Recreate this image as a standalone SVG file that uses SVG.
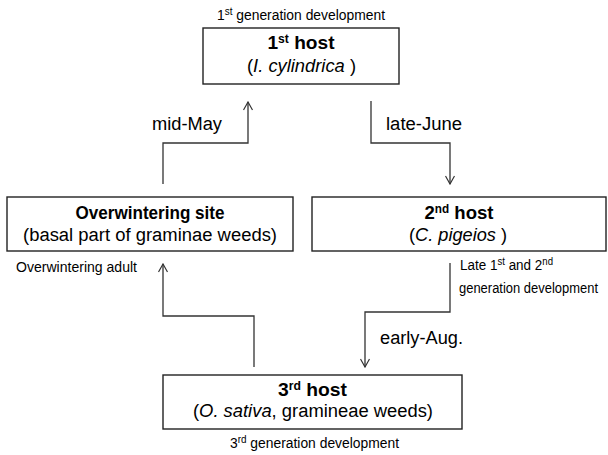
<svg xmlns="http://www.w3.org/2000/svg" width="608" height="455" viewBox="0 0 608 455">
<defs>
<marker id="arr" viewBox="0 0 10 10" refX="9" refY="5" markerWidth="10" markerHeight="10" markerUnits="userSpaceOnUse" orient="auto">
<path d="M1,0.5 L9,5 L1,9.5" fill="none" stroke="#333" stroke-width="1.2"/>
</marker>
<style>
.box{fill:#fff;stroke:#222;stroke-width:1.4}
.ttl{font-family:"Liberation Sans",Arial,sans-serif;font-weight:bold;font-size:19px;fill:#000;text-anchor:middle}
.sub{font-family:"Liberation Sans",Arial,sans-serif;font-size:18px;fill:#000;text-anchor:middle}
.lbl{font-family:"Liberation Sans",Arial,sans-serif;font-size:18px;fill:#000}
.sm{font-family:"Liberation Sans",Arial,sans-serif;font-size:14px;fill:#000}
.it{font-style:italic}
.supb{font-size:12px}
.sups{font-size:10px}
.con{fill:none;stroke:#333;stroke-width:1.3;marker-end:url(#arr)}
</style>
</defs>
<rect width="608" height="455" fill="#fff"/>

<g id="connectors">
<polyline class="con" points="163,184 163,143 248,143 248,102"/>
<polyline class="con" points="371,101 371,143 450,143 450,184"/>
<polyline class="con" points="450,263 450,312 365,312 365,367"/>
<polyline class="con" points="254,367 254,316 163,316 163,264"/>
<text class="lbl" x="152" y="130" textLength="70" lengthAdjust="spacingAndGlyphs">mid-May</text>
<text class="lbl" x="386" y="130" textLength="76" lengthAdjust="spacingAndGlyphs">late-June</text>
<text class="lbl" x="380" y="344" textLength="83" lengthAdjust="spacingAndGlyphs">early-Aug.</text>
</g>

<g id="host1">
<text class="sm" x="217" y="20" textLength="168" lengthAdjust="spacingAndGlyphs">1<tspan class="sups" dy="-5">st</tspan><tspan dy="5"> generation development</tspan></text>
<rect class="box" x="203" y="28" width="196" height="56"/>
<text class="ttl" x="301" y="49" textLength="67" lengthAdjust="spacingAndGlyphs">1<tspan class="supb" dy="-6">st</tspan><tspan dy="6"> host</tspan></text>
<text class="sub" x="301.5" y="72" textLength="109" lengthAdjust="spacingAndGlyphs">(<tspan class="it">I. cylindrica</tspan> )</text>
</g>

<g id="overwintering">
<rect class="box" x="7" y="197" width="286" height="54"/>
<text class="ttl" x="150" y="219" textLength="149" lengthAdjust="spacingAndGlyphs">Overwintering site</text>
<text class="sub" x="150" y="241" textLength="254" lengthAdjust="spacingAndGlyphs">(basal part of graminae weeds)</text>
<text class="sm" x="16" y="272" textLength="121" lengthAdjust="spacingAndGlyphs">Overwintering adult</text>
</g>

<g id="host2">
<rect class="box" x="312" y="197" width="294" height="54"/>
<text class="ttl" x="459" y="219" textLength="69" lengthAdjust="spacingAndGlyphs">2<tspan class="supb" dy="-6">nd</tspan><tspan dy="6"> host</tspan></text>
<text class="sub" x="458" y="241" textLength="98" lengthAdjust="spacingAndGlyphs">(<tspan class="it">C. pigeios</tspan> )</text>
<text class="sm" x="460" y="270" textLength="93" lengthAdjust="spacingAndGlyphs">Late 1<tspan class="sups" dy="-5">st</tspan><tspan dy="5"> and 2</tspan><tspan class="sups" dy="-5">nd</tspan></text>
<text class="sm" x="459" y="293" textLength="139" lengthAdjust="spacingAndGlyphs">generation development</text>
</g>

<g id="host3">
<rect class="box" x="163" y="375" width="299" height="54"/>
<text class="ttl" x="312.5" y="396" textLength="69" lengthAdjust="spacingAndGlyphs">3<tspan class="supb" dy="-6">rd</tspan><tspan dy="6"> host</tspan></text>
<text class="sub" x="313" y="417" textLength="240" lengthAdjust="spacingAndGlyphs">(<tspan class="it">O. sativa</tspan>, gramineae weeds)</text>
<text class="sm" x="230" y="448" textLength="169" lengthAdjust="spacingAndGlyphs">3<tspan class="sups" dy="-5">rd</tspan><tspan dy="5"> generation development</tspan></text>
</g>
</svg>
